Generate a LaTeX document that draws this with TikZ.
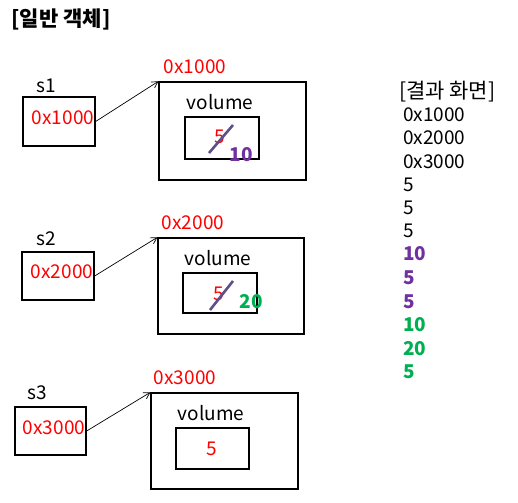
\documentclass[tikz,border=0pt]{standalone}
\usepackage{fontspec}
\setmainfont{Noto Sans CJK KR}
\usepackage{xcolor}
\usetikzlibrary{arrows.meta}
\definecolor{addr}{RGB}{255,0,0}
\definecolor{purp}{RGB}{112,48,160}
\definecolor{grn}{RGB}{0,176,80}
\definecolor{slash}{RGB}{96,78,140}

\begin{document}
\begin{tikzpicture}[x=1pt,y=-1pt,
  txt/.style={font=\fontsize{19}{21}\selectfont, inner sep=0pt},
  btxt/.style={font=\fontsize{19}{21}\selectfont\bfseries, inner sep=0pt},
  kor/.style={font=\fontsize{21}{23}\selectfont, inner sep=0pt},
  box/.style={draw, line width=1.3pt},
  ptr/.style={-{Straight Barb[length=6pt,width=7pt]}, line width=0.7pt}]
\useasboundingbox (0,0) rectangle (518,502);
\node[kor, font=\fontsize{21}{23}\selectfont\bfseries] (title) at (61,19) {[일반 객체]};
% s1
\node[txt] (s1) at (46,86) {s1};
\node[box, minimum width=72pt, minimum height=49pt] (s1box) at (59,121.5) {};
\node[txt, addr] (s1val) at (63,118) {0x1000};
\node[box, minimum width=147pt, minimum height=98pt] (obj1) at (232.5,131) {};
\node[txt, addr] (obj1addr) at (195,67) {0x1000};
\node[txt] (vol1) at (220,102) {volume};
\node[box, minimum width=74pt, minimum height=42pt] (in1) at (222,138) {};
\node[txt, addr] (v1) at (220,137) {5};
\coordinate (c1a) at (209,153);
\coordinate (c1b) at (233,125);
\draw[slash, line width=2.6pt] (c1a) -- (c1b);
\node[btxt, purp] (n1) at (241,155) {10};
\draw[ptr] (s1box.east) -- (obj1.north west);
% s2
\node[txt] (s2) at (46,239) {s2};
\node[box, minimum width=72pt, minimum height=48pt] (s2box) at (58,276) {};
\node[txt, addr] (s2val) at (62,272) {0x2000};
\node[box, minimum width=146pt, minimum height=96pt] (obj2) at (231,286) {};
\node[txt, addr] (obj2addr) at (193,223) {0x2000};
\node[txt] (vol2) at (218,258) {volume};
\node[box, minimum width=74pt, minimum height=40pt] (in2) at (220,293) {};
\node[txt, addr] (v2) at (219,294) {5};
\coordinate (c2a) at (210,310);
\coordinate (c2b) at (233,281);
\draw[slash, line width=2.6pt] (c2a) -- (c2b);
\node[btxt, grn] (n2) at (251,302) {20};
\draw[ptr] (s2box.east) -- (obj2.north west);
% s3
\node[txt] (s3) at (37,393) {s3};
\node[box, minimum width=71pt, minimum height=48pt] (s3box) at (50.5,431) {};
\node[txt, addr] (s3val) at (54,428) {0x3000};
\node[box, minimum width=147pt, minimum height=96pt] (obj3) at (224.5,441) {};
\node[txt, addr] (obj3addr) at (185,378) {0x3000};
\node[txt] (vol3) at (211,413) {volume};
\node[box, minimum width=73pt, minimum height=41pt] (in3) at (212.5,448.5) {};
\node[txt, addr] (v3) at (212,449) {5};
\draw[ptr] (s3box.east) -- (obj3.north west);
% result
\node[kor, anchor=west] (res) at (399,92) {[결과 화면]};
\node[txt, anchor=west] (r1) at (403,115) {0x1000};
\node[txt, anchor=west] (r2) at (403,138) {0x2000};
\node[txt, anchor=west] (r3) at (403,162) {0x3000};
\node[txt, anchor=west] (r4) at (403,185) {5};
\node[txt, anchor=west] (r5) at (403,208) {5};
\node[txt, anchor=west] (r6) at (403,231) {5};
\node[btxt, anchor=west, purp] (r7) at (403,254) {10};
\node[btxt, anchor=west, purp] (r8) at (403,278) {5};
\node[btxt, anchor=west, purp] (r9) at (403,302) {5};
\node[btxt, anchor=west, grn] (r10) at (403,325) {10};
\node[btxt, anchor=west, grn] (r11) at (403,349) {20};
\node[btxt, anchor=west, grn] (r12) at (403,372) {5};
\end{tikzpicture}
\end{document}
